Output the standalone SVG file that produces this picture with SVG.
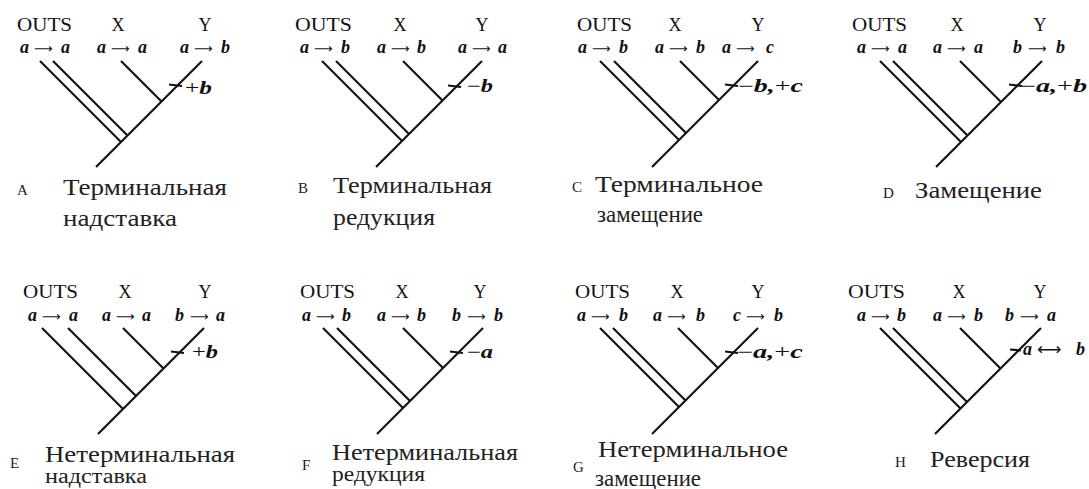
<svg xmlns="http://www.w3.org/2000/svg" width="1089" height="489" viewBox="0 0 1089 489">
<style>
text{font-family:"Liberation Serif","DejaVu Serif",serif;fill:#111}
.hd{font-size:18px}
.hx{font-size:18px;text-anchor:middle}
.rw{font-size:18px;font-weight:bold;font-style:italic}
.ar{font-family:"DejaVu Sans",sans-serif;font-size:13px;font-weight:normal;font-style:normal}
.ar2{font-family:"DejaVu Sans",sans-serif;font-size:17px;font-weight:normal;font-style:normal}
.ann{font-size:18px;font-weight:bold;font-style:italic}
.op{font-weight:normal;font-style:normal}
.cap{font-size:24px;fill:#222}
.cap2{font-size:20px;fill:#222}
.let{font-size:15px;fill:#222}
.tree line{stroke:#111;stroke-width:2.2;fill:none}
</style>
<rect width="1089" height="489" fill="#fff"/>

<g id="panel-A">
<text class="hd" x="17" y="31" textLength="55" lengthAdjust="spacingAndGlyphs">OUTS</text>
<text class="hx" x="118" y="31">X</text>
<text class="hx" x="205" y="31">Y</text>
<text class="rw" y="53"><tspan x="20">a</tspan><tspan class="ar" x="34">⟶</tspan><tspan x="61">a</tspan></text>
<text class="rw" y="53"><tspan x="97">a</tspan><tspan class="ar" x="111">⟶</tspan><tspan x="138">a</tspan></text>
<text class="rw" y="53"><tspan x="180">a</tspan><tspan class="ar" x="194">⟶</tspan><tspan x="221">b</tspan></text>
<text class="ann" x="185" y="94" textLength="27" lengthAdjust="spacingAndGlyphs"><tspan class="op">+</tspan>b</text>
<text class="let" x="17" y="195">A</text>
<text class="cap" x="63" y="195" textLength="164" lengthAdjust="spacingAndGlyphs">Терминальная</text>
<text class="cap" x="63" y="226" textLength="114" lengthAdjust="spacingAndGlyphs">надставка</text>
</g>

<g id="panel-B">
<text class="hd" x="295" y="31" textLength="57" lengthAdjust="spacingAndGlyphs">OUTS</text>
<text class="hx" x="400" y="31">X</text>
<text class="hx" x="482" y="31">Y</text>
<text class="rw" y="53"><tspan x="300">a</tspan><tspan class="ar" x="314">⟶</tspan><tspan x="341">b</tspan></text>
<text class="rw" y="53"><tspan x="377">a</tspan><tspan class="ar" x="391">⟶</tspan><tspan x="417">b</tspan></text>
<text class="rw" y="53"><tspan x="458">a</tspan><tspan class="ar" x="472">⟶</tspan><tspan x="498">a</tspan></text>
<text class="ann" x="467" y="92" textLength="26" lengthAdjust="spacingAndGlyphs"><tspan class="op">−</tspan>b</text>
<text class="let" x="298" y="193">B</text>
<text class="cap" x="333" y="193" textLength="159" lengthAdjust="spacingAndGlyphs">Терминальная</text>
<text class="cap" x="333" y="225" textLength="102" lengthAdjust="spacingAndGlyphs">редукция</text>
</g>

<g id="panel-C">
<text class="hd" x="577" y="31" textLength="55" lengthAdjust="spacingAndGlyphs">OUTS</text>
<text class="hx" x="675" y="31">X</text>
<text class="hx" x="758" y="31">Y</text>
<text class="rw" y="53"><tspan x="578">a</tspan><tspan class="ar" x="592">⟶</tspan><tspan x="619">b</tspan></text>
<text class="rw" y="53"><tspan x="655">a</tspan><tspan class="ar" x="669">⟶</tspan><tspan x="696">b</tspan></text>
<text class="rw" y="53"><tspan x="722">a</tspan><tspan class="ar" x="736">⟶</tspan><tspan x="766">c</tspan></text>
<text class="ann" x="738" y="92" textLength="65" lengthAdjust="spacingAndGlyphs"><tspan class="op">−</tspan>b,<tspan class="op">+</tspan>c</text>
<text class="let" x="572" y="192">C</text>
<text class="cap" x="595" y="192" textLength="168" lengthAdjust="spacingAndGlyphs">Терминальное</text>
<text class="cap" x="597" y="222" textLength="106" lengthAdjust="spacingAndGlyphs">замещение</text>
</g>

<g id="panel-D">
<text class="hd" x="852" y="31" textLength="55" lengthAdjust="spacingAndGlyphs">OUTS</text>
<text class="hx" x="957" y="31">X</text>
<text class="hx" x="1040" y="31">Y</text>
<text class="rw" y="53"><tspan x="857">a</tspan><tspan class="ar" x="871">⟶</tspan><tspan x="898">a</tspan></text>
<text class="rw" y="53"><tspan x="933">a</tspan><tspan class="ar" x="947">⟶</tspan><tspan x="974">a</tspan></text>
<text class="rw" y="53"><tspan x="1013">b</tspan><tspan class="ar" x="1028">⟶</tspan><tspan x="1056">b</tspan></text>
<text class="ann" x="1020" y="92" textLength="67" lengthAdjust="spacingAndGlyphs"><tspan class="op">−</tspan>a,<tspan class="op">+</tspan>b</text>
<text class="let" x="883" y="198">D</text>
<text class="cap" x="915" y="198" textLength="127" lengthAdjust="spacingAndGlyphs">Замещение</text>
</g>

<g id="panel-E">
<text class="hd" x="23" y="298" textLength="55" lengthAdjust="spacingAndGlyphs">OUTS</text>
<text class="hx" x="125" y="298">X</text>
<text class="hx" x="205" y="298">Y</text>
<text class="rw" y="321"><tspan x="28">a</tspan><tspan class="ar" x="42">⟶</tspan><tspan x="69">a</tspan></text>
<text class="rw" y="321"><tspan x="102">a</tspan><tspan class="ar" x="116">⟶</tspan><tspan x="142">a</tspan></text>
<text class="rw" y="321"><tspan x="175">b</tspan><tspan class="ar" x="190">⟶</tspan><tspan x="216">a</tspan></text>
<text class="ann" x="192" y="358" textLength="26" lengthAdjust="spacingAndGlyphs"><tspan class="op">+</tspan>b</text>
<text class="let" x="10" y="468">E</text>
<text class="cap" x="45" y="462" textLength="190" lengthAdjust="spacingAndGlyphs">Нетерминальная</text>
<text class="cap2" x="45" y="483" textLength="102" lengthAdjust="spacingAndGlyphs">надставка</text>
</g>

<g id="panel-F">
<text class="hd" x="300" y="298" textLength="55" lengthAdjust="spacingAndGlyphs">OUTS</text>
<text class="hx" x="402" y="298">X</text>
<text class="hx" x="480" y="298">Y</text>
<text class="rw" y="321"><tspan x="302">a</tspan><tspan class="ar" x="316">⟶</tspan><tspan x="342">b</tspan></text>
<text class="rw" y="321"><tspan x="377">a</tspan><tspan class="ar" x="391">⟶</tspan><tspan x="417">b</tspan></text>
<text class="rw" y="321"><tspan x="452">b</tspan><tspan class="ar" x="467">⟶</tspan><tspan x="494">b</tspan></text>
<text class="ann" x="467" y="358" textLength="26" lengthAdjust="spacingAndGlyphs"><tspan class="op">−</tspan>a</text>
<text class="let" x="302" y="470">F</text>
<text class="cap" x="332" y="460" textLength="186" lengthAdjust="spacingAndGlyphs">Нетерминальная</text>
<text class="cap2" x="332" y="481" textLength="93" lengthAdjust="spacingAndGlyphs">редукция</text>
</g>

<g id="panel-G">
<text class="hd" x="575" y="298" textLength="55" lengthAdjust="spacingAndGlyphs">OUTS</text>
<text class="hx" x="677" y="298">X</text>
<text class="hx" x="758" y="298">Y</text>
<text class="rw" y="321"><tspan x="577">a</tspan><tspan class="ar" x="591">⟶</tspan><tspan x="619">b</tspan></text>
<text class="rw" y="321"><tspan x="653">a</tspan><tspan class="ar" x="667">⟶</tspan><tspan x="696">b</tspan></text>
<text class="rw" y="321"><tspan x="733">c</tspan><tspan class="ar" x="746">⟶</tspan><tspan x="774">b</tspan></text>
<text class="ann" x="737" y="358" textLength="66" lengthAdjust="spacingAndGlyphs"><tspan class="op">−</tspan>a,<tspan class="op">+</tspan>c</text>
<text class="let" x="573" y="472">G</text>
<text class="cap" x="598" y="457" textLength="190" lengthAdjust="spacingAndGlyphs">Нетерминальное</text>
<text class="cap" x="595" y="486" textLength="106" lengthAdjust="spacingAndGlyphs">замещение</text>
</g>

<g id="panel-H">
<text class="hd" x="848" y="298" textLength="57" lengthAdjust="spacingAndGlyphs">OUTS</text>
<text class="hx" x="959" y="298">X</text>
<text class="hx" x="1040" y="298">Y</text>
<text class="rw" y="321"><tspan x="857">a</tspan><tspan class="ar" x="871">⟶</tspan><tspan x="897">b</tspan></text>
<text class="rw" y="321"><tspan x="933">a</tspan><tspan class="ar" x="947">⟶</tspan><tspan x="974">b</tspan></text>
<text class="rw" y="321"><tspan x="1005">b</tspan><tspan class="ar" x="1020">⟶</tspan><tspan x="1047">a</tspan></text>
<text class="ann" y="355"><tspan x="1023">a</tspan><tspan class="ar2" x="1037">⟷</tspan><tspan x="1076">b</tspan></text>
<text class="let" x="895" y="467">H</text>
<text class="cap" x="930" y="467" textLength="100" lengthAdjust="spacingAndGlyphs">Реверсия</text>
</g>

<g id="connectors" class="tree">
<g id="tree-A">
<line x1="202" y1="61" x2="96" y2="167"/>
<line x1="121" y1="61" x2="161.5" y2="101.5"/>
<line x1="40" y1="61" x2="121" y2="142"/>
<line x1="53" y1="61" x2="127.5" y2="135.5"/>
<line x1="169" y1="84.5" x2="182" y2="86"/>
</g>
<g id="tree-B">
<line x1="482" y1="61" x2="376" y2="167"/>
<line x1="403" y1="61" x2="442.5" y2="100.5"/>
<line x1="322" y1="61" x2="402" y2="141"/>
<line x1="336" y1="61" x2="409" y2="134"/>
<line x1="448" y1="85.5" x2="461" y2="87"/>
</g>
<g id="tree-C">
<line x1="758" y1="61" x2="652" y2="167"/>
<line x1="680" y1="61" x2="719" y2="100"/>
<line x1="600" y1="61" x2="679" y2="140"/>
<line x1="614" y1="61" x2="686" y2="133"/>
<line x1="725" y1="84.5" x2="738" y2="86"/>
</g>
<g id="tree-D">
<line x1="1042" y1="61" x2="936" y2="167"/>
<line x1="960" y1="61" x2="1001" y2="102"/>
<line x1="880" y1="61" x2="961" y2="142"/>
<line x1="893" y1="61" x2="967.5" y2="135.5"/>
<line x1="1009" y1="84.5" x2="1022" y2="86"/>
</g>
<g id="tree-E">
<line x1="204" y1="328" x2="98" y2="434"/>
<line x1="123" y1="328" x2="163.5" y2="368.5"/>
<line x1="42" y1="328" x2="123" y2="409"/>
<line x1="68" y1="328" x2="136" y2="396"/>
<line x1="171" y1="351.5" x2="184" y2="353"/>
</g>
<g id="tree-F">
<line x1="483" y1="328" x2="377" y2="434"/>
<line x1="403" y1="328" x2="443" y2="368"/>
<line x1="323" y1="328" x2="403" y2="408"/>
<line x1="337" y1="328" x2="410" y2="401"/>
<line x1="450" y1="351.5" x2="463" y2="353"/>
</g>
<g id="tree-G">
<line x1="758" y1="328" x2="652" y2="434"/>
<line x1="678" y1="328" x2="718" y2="368"/>
<line x1="600" y1="328" x2="679" y2="407"/>
<line x1="613" y1="328" x2="685.5" y2="400.5"/>
<line x1="725" y1="351.5" x2="738" y2="353"/>
</g>
<g id="tree-H">
<line x1="1041" y1="328" x2="935" y2="434"/>
<line x1="960" y1="328" x2="1000.5" y2="368.5"/>
<line x1="880" y1="328" x2="960.5" y2="408.5"/>
<line x1="893" y1="328" x2="967" y2="402"/>
<line x1="1010" y1="349.5" x2="1021" y2="350.5"/>
</g>
</g>
</svg>
